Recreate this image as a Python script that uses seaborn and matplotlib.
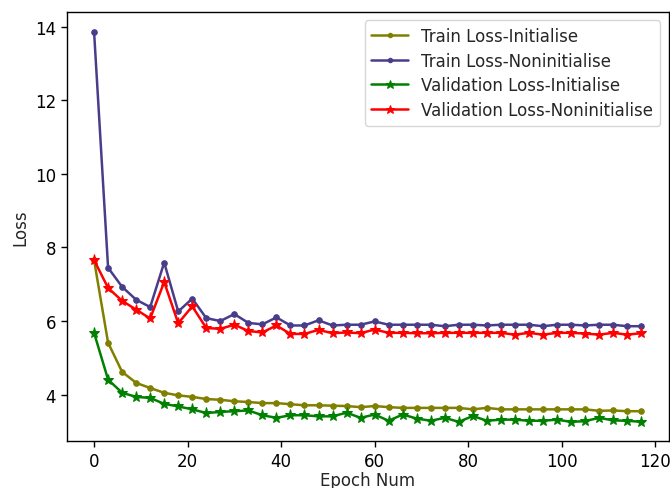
import numpy as np
import pandas as pd
import matplotlib
matplotlib.use("Agg")
import matplotlib.pyplot as plt
import seaborn as sns

# Epochen (alle 3 Epochen ein Messpunkt)
epochs = list(range(0, 120, 3))

train_init = [7.66, 5.41, 4.62, 4.32, 4.18, 4.05, 3.98, 3.94, 3.88, 3.86,
              3.82, 3.80, 3.77, 3.77, 3.74, 3.71, 3.71, 3.70, 3.69, 3.66,
              3.69, 3.66, 3.64, 3.64, 3.64, 3.64, 3.64, 3.60, 3.64, 3.60,
              3.60, 3.60, 3.60, 3.60, 3.60, 3.60, 3.56, 3.57, 3.55, 3.55]

train_noninit = [13.87, 7.45, 6.93, 6.58, 6.38, 7.59, 6.26, 6.61, 6.08, 6.00,
                 6.19, 5.95, 5.91, 6.10, 5.88, 5.88, 6.02, 5.88, 5.90, 5.90,
                 5.99, 5.90, 5.90, 5.90, 5.90, 5.86, 5.90, 5.90, 5.88, 5.90,
                 5.90, 5.90, 5.86, 5.90, 5.90, 5.88, 5.90, 5.90, 5.86, 5.86]

val_init = [5.68, 4.41, 4.05, 3.94, 3.91, 3.75, 3.68, 3.60, 3.50, 3.53,
            3.55, 3.57, 3.44, 3.37, 3.44, 3.44, 3.41, 3.41, 3.51, 3.37,
            3.46, 3.29, 3.46, 3.35, 3.29, 3.37, 3.26, 3.42, 3.29, 3.32,
            3.32, 3.29, 3.29, 3.32, 3.26, 3.28, 3.37, 3.30, 3.29, 3.26]

val_noninit = [7.66, 6.90, 6.55, 6.31, 6.07, 7.06, 5.94, 6.40, 5.81, 5.79,
               5.90, 5.73, 5.69, 5.88, 5.65, 5.65, 5.76, 5.67, 5.69, 5.67,
               5.77, 5.68, 5.68, 5.67, 5.67, 5.68, 5.68, 5.68, 5.68, 5.68,
               5.63, 5.68, 5.63, 5.68, 5.68, 5.66, 5.63, 5.68, 5.63, 5.67]

labels = ["Train Loss-Initialise", "Train Loss-Noninitialise",
          "Validation Loss-Initialise", "Validation Loss-Noninitialise"]
colors = ["olive", "darkslateblue", "green", "red"]
markers = [".", ".", "*", "*"]


def main():
    sns.set_style("ticks")
    plt.rcParams["font.family"] = ["DejaVu Sans"]
    plt.rcParams["font.size"] = 12

    fig = plt.figure(figsize=(6.7, 4.89), dpi=100)
    ax = fig.add_axes([66.7 / 670, 47 / 489, (668.5 - 66.7) / 670, (442 - 13) / 489])

    series = [train_init, train_noninit, val_init, val_noninit]
    for values, label, color, marker in zip(series, labels, colors, markers):
        df = pd.DataFrame({"epoch": epochs, "loss": values})
        sns.lineplot(data=df, x="epoch", y="loss", ax=ax, color=color, marker=marker,
                     markersize=8, markeredgecolor=color, linewidth=1.8, label=label)

    ax.set_xlim(-5.85, 122.85)
    ax.set_ylim(2.74, 14.4)
    ax.set_xticks([0, 20, 40, 60, 80, 100, 120])
    ax.set_yticks([4, 6, 8, 10, 12, 14])
    # Achsenbeschriftung etwas näher, damit sie nicht abgeschnitten wird
    ax.set_xlabel("Epoch Num", fontsize=12, labelpad=1)
    ax.set_ylabel("Loss", fontsize=12)
    for s in ax.spines.values():
        s.set_color("black")
        s.set_linewidth(1.0)
    ax.tick_params(colors="black", direction="out", length=4.2, width=1.0, labelsize=12)
    ax.legend(loc="upper right", fontsize=12, frameon=True, handlelength=2.2,
              markerscale=0.8, labelspacing=0.4)

    fig.savefig("out.png", dpi=100)
    plt.close(fig)


if __name__ == "__main__":
    main()
